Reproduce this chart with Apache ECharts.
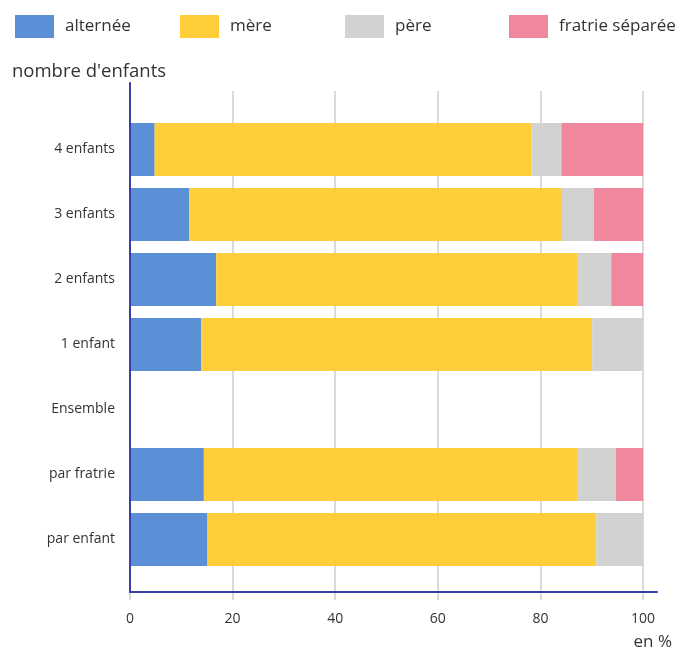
<!DOCTYPE html>
<html>
<head>
<meta charset="utf-8">
<script src="https://cdn.jsdelivr.net/npm/echarts@6/dist/echarts.min.js"></script>
<style>
  html, body { margin: 0; padding: 0; background: #fff; }
  #chart { width: 680px; height: 652px; }
</style>
</head>
<body>
<div id="chart"></div>
<script>
// catégories (de haut en bas)
var categories = ['4 enfants', '3 enfants', '2 enfants', '1 enfant', 'Ensemble', 'par fratrie', 'par enfant'];

// valeurs en %
var alternee = [4.8, 11.5, 16.8, 13.9, null, 14.4, 15.1];
var mere     = [73.4, 72.7, 70.5, 76.2, null, 72.9, 75.8];
var pere     = [5.9, 6.2, 6.5, 9.9, null, 7.4, 9.1];
var fratrie  = [15.9, 9.6, 6.2, 0, null, 5.3, 0];

var seriesNames = ['alternée', 'mère', 'père', 'fratrie séparée'];
var colors = ['#4f86d3', '#ffcb2c', '#cfcfcf', '#ef7f96'];

var font = '"Open Sans", "DejaVu Sans", sans-serif';
var chart = echarts.init(document.getElementById('chart'));

// une légende par élément pour garder un espacement régulier
var legendLeft = [15, 180, 345, 509];
var legends = [];
for (var i = 0; i < seriesNames.length; i++) {
    legends.push({
        data: [seriesNames[i]],
        left: legendLeft[i],
        top: 15,
        padding: 0,
        itemWidth: 39,
        itemHeight: 23,
        itemGap: 0,
        icon: 'rect',
        textStyle: { fontFamily: font, fontSize: 17, color: '#333', padding: [6, 0, 0, 6] }
    });
}

function bar(name, data, color) {
    return {
        name: name,
        type: 'bar',
        stack: 'total',
        xAxisIndex: 1,
        yAxisIndex: 1,
        barWidth: 53,
        itemStyle: { color: color, opacity: 0.93 },
        emphasis: { disabled: true },
        data: data
    };
}

var option = {
    animation: false,
    color: colors,
    legend: legends,
    grid: [
        // grille des lignes verticales et graduations
        { left: 130, right: 37, top: 91, bottom: 60 },
        // grille des barres
        { left: 130, right: 37, top: 117, bottom: 80 },
        // cadre (lignes d'axe)
        { left: 130, right: 23, top: 83, bottom: 60 }
    ],
    xAxis: [
        {
            gridIndex: 0, type: 'value', min: 0, max: 100, interval: 20,
            axisLine: { show: false },
            axisTick: { show: true, length: 8, lineStyle: { color: '#dadada', width: 2 } },
            splitLine: { show: true, lineStyle: { color: '#dadada', width: 2 } },
            axisLabel: { margin: 20, fontFamily: font, fontSize: 14, color: '#333' }
        },
        {
            gridIndex: 1, type: 'value', min: 0, max: 100, show: false
        },
        {
            gridIndex: 2, type: 'value', min: 0, max: 100, z: 4,
            axisLine: { show: true, lineStyle: { color: '#3b3ea6', width: 2 } },
            axisTick: { show: false }, axisLabel: { show: false }, splitLine: { show: false }
        }
    ],
    yAxis: [
        { gridIndex: 0, type: 'value', show: false },
        {
            gridIndex: 1, type: 'category', inverse: true, data: categories,
            axisLine: { show: false }, axisTick: { show: false },
            axisLabel: { margin: 15, fontFamily: font, fontSize: 14, color: '#333' }
        },
        {
            gridIndex: 2, type: 'value', z: 4,
            axisLine: { show: true, lineStyle: { color: '#3b3ea6', width: 2 } },
            axisTick: { show: false }, axisLabel: { show: false }, splitLine: { show: false }
        }
    ],
    graphic: [
        { type: 'text', left: 12, top: 62, style: { text: "nombre d'enfants", font: '18.5px ' + font, fill: '#333' } },
        { type: 'text', right: 8, top: 634, style: { text: 'en %', font: '17px ' + font, fill: '#333' } }
    ],
    series: [
        bar(seriesNames[0], alternee, colors[0]),
        bar(seriesNames[1], mere, colors[1]),
        bar(seriesNames[2], pere, colors[2]),
        bar(seriesNames[3], fratrie, colors[3])
    ]
};

chart.setOption(option);
</script>
</body>
</html>
